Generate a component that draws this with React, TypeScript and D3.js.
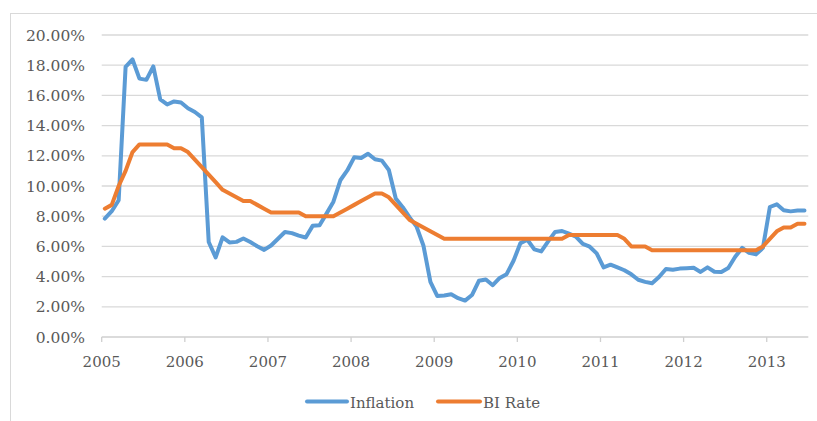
import React from 'react';
import * as d3 from 'd3';

const width = 817;
const height = 421;

// monthly values, first point sits just after the "2005" tick
const inflation = [
  7.84, 8.33, 9.06, 17.89, 18.38, 17.11,
  17.03, 17.92, 15.74, 15.40, 15.60, 15.53, 15.15, 14.90, 14.55, 6.29, 5.27, 6.60,
  6.26, 6.30, 6.52, 6.29, 6.01, 5.77, 6.06, 6.51, 6.95, 6.88, 6.71, 6.59,
  7.36, 7.40, 8.17, 8.96, 10.38, 11.03, 11.90, 11.85, 12.14, 11.77, 11.68, 11.06,
  9.17, 8.60, 7.92, 7.31, 6.04, 3.65, 2.71, 2.75, 2.83, 2.57, 2.41, 2.78,
  3.72, 3.81, 3.43, 3.91, 4.16, 5.05, 6.22, 6.44, 5.80, 5.67, 6.33, 6.96,
  7.02, 6.84, 6.65, 6.16, 5.98, 5.54, 4.61, 4.79, 4.61, 4.42, 4.15, 3.79,
  3.65, 3.56, 3.97, 4.50, 4.45, 4.53, 4.56, 4.58, 4.31, 4.61, 4.32, 4.30,
  4.57, 5.31, 5.90, 5.57, 5.47, 5.90, 8.61, 8.79, 8.40, 8.32, 8.37, 8.38,
];

const biRate = [
  8.50, 8.75, 10.00, 11.00, 12.25, 12.75,
  12.75, 12.75, 12.75, 12.75, 12.50, 12.50, 12.25, 11.75, 11.25, 10.75, 10.25, 9.75,
  9.50, 9.25, 9.00, 9.00, 8.75, 8.50, 8.25, 8.25, 8.25, 8.25, 8.25, 8.00,
  8.00, 8.00, 8.00, 8.00, 8.25, 8.50, 8.75, 9.00, 9.25, 9.50, 9.50, 9.25,
  8.75, 8.25, 7.75, 7.50, 7.25, 7.00, 6.75, 6.50, 6.50, 6.50, 6.50, 6.50,
  6.50, 6.50, 6.50, 6.50, 6.50, 6.50, 6.50, 6.50, 6.50, 6.50, 6.50, 6.50,
  6.50, 6.75, 6.75, 6.75, 6.75, 6.75, 6.75, 6.75, 6.75, 6.50, 6.00, 6.00,
  6.00, 5.75, 5.75, 5.75, 5.75, 5.75, 5.75, 5.75, 5.75, 5.75, 5.75, 5.75,
  5.75, 5.75, 5.75, 5.75, 5.75, 6.00, 6.50, 7.00, 7.25, 7.25, 7.50, 7.50,
];

const yearTicks = [2005, 2006, 2007, 2008, 2009, 2010, 2011, 2012, 2013];
const yTicks = [0, 2, 4, 6, 8, 10, 12, 14, 16, 18, 20];

const series = [
  { name: 'Inflation', values: inflation, color: '#5B9BD5' },
  { name: 'BI Rate', values: biRate, color: '#ED7D31' },
];

const x = d3.scaleLinear().domain([2005, 2013.5]).range([101.7, 808.3]);
const y = d3.scaleLinear().domain([0, 20]).range([337, 35]);

const monthPos = (i: number) => 2005 + (i + 0.45) / 12;

const line = d3.line<number>()
  .x((d, i) => x(monthPos(i)))
  .y(d => y(d));

const grid = '#D9D9D9';
const textColor = '#595959';
const font = '"DejaVu Serif", serif';

export default function App() {
  return (
    <svg width={width} height={height} style={{ position: 'absolute', left: 0, top: 0, background: '#fff' }}>
      <rect x={10.5} y={13.5} width={width} height={height} fill="#fff" stroke={grid} />
      {yTicks.map(t => (
        <g key={t}>
          {t > 0 && <line x1={x.range()[0]} x2={x.range()[1]} y1={y(t)} y2={y(t)} stroke={grid} strokeWidth={1.3} />}
          <text x={85} y={y(t) + 5.5} textAnchor="end" fill={textColor} fontFamily={font} fontSize={15.5}>
            {t.toFixed(2) + '%'}
          </text>
        </g>
      ))}
      <line x1={x.range()[0]} x2={x.range()[1]} y1={y(0)} y2={y(0)} stroke="#CFCFCF" strokeWidth={1.3} />
      {yearTicks.map(t => (
        <g key={t}>
          <line x1={x(t)} x2={x(t)} y1={y(0)} y2={y(0) + 5} stroke="#CFCFCF" strokeWidth={1.3} />
          <text x={x(t)} y={366.5} textAnchor="middle" fill={textColor} fontFamily={font} fontSize={15}>
            {t}
          </text>
        </g>
      ))}
      {series.map(s => (
        <path key={s.name} d={line(s.values) || ''} fill="none" stroke={s.color} strokeWidth={4}
          strokeLinejoin="round" strokeLinecap="round" />
      ))}
      <g fontFamily={font} fontSize={15} fill={textColor}>
        <line x1={307} x2={347} y1={401.5} y2={401.5} stroke={series[0].color} strokeWidth={4} strokeLinecap="round" />
        <text x={350} y={408}>{series[0].name}</text>
        <line x1={438} x2={480} y1={401.5} y2={401.5} stroke={series[1].color} strokeWidth={4} strokeLinecap="round" />
        <text x={483} y={408}>{series[1].name}</text>
      </g>
    </svg>
  );
}
